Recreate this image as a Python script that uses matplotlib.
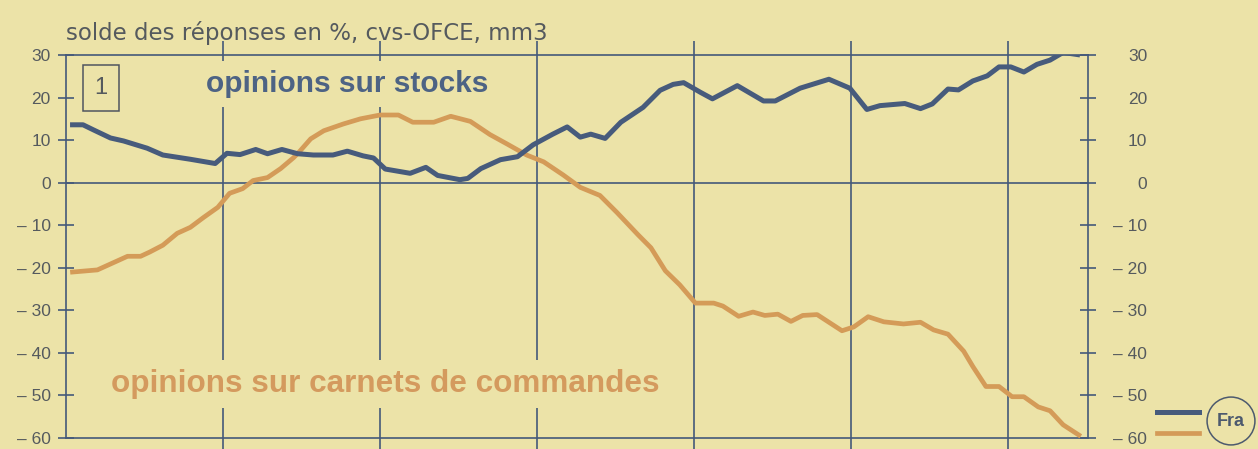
import matplotlib
matplotlib.use("Agg")
import matplotlib.pyplot as plt
import matplotlib.transforms as mtransforms
from matplotlib.lines import Line2D

plt.rcParams['font.family'] = ['Liberation Sans', 'DejaVu Sans']

# months since start of chart (vertical grid every 12 months)
stocks_m = [0.5, 1.3, 2.1, 3.4, 4.4, 6.2, 7.4, 9.5, 11.4, 12.3, 13.3, 14.5, 15.4, 16.5,
            17.7, 18.9, 20.4, 21.5, 22.7, 23.5, 24.4, 26.3, 27.5, 28.4, 30.1, 30.7,
            31.7, 33.2, 34.5, 35.7, 37.2, 38.3, 39.3, 40.1, 41.2, 42.4, 44.1, 45.4,
            46.4, 47.2, 48.5, 49.4, 51.3, 53.3, 54.2, 56.1, 58.3, 59.9, 61.2, 62.2,
            64.1, 65.3, 66.2, 67.4, 68.2, 69.3, 70.4, 71.3, 72.2, 73.2, 74.2, 75.2,
            76.2, 77.3]
stocks = [13.6, 13.6, 12.4, 10.5, 9.8, 8.1, 6.5, 5.5, 4.5, 6.9, 6.6, 7.8, 6.8, 7.8,
          6.8, 6.5, 6.5, 7.4, 6.3, 5.8, 3.2, 2.2, 3.6, 1.7, 0.7, 1.0,
          3.3, 5.4, 6.1, 8.9, 11.4, 13.1, 10.7, 11.4, 10.4, 14.2, 17.7, 21.7,
          23.1, 23.5, 21.2, 19.7, 22.8, 19.2, 19.2, 22.2, 24.3, 22.2, 17.2, 18.1,
          18.6, 17.4, 18.5, 22.0, 21.8, 23.9, 25.1, 27.2, 27.2, 26.0, 27.8, 28.8,
          30.6, 30.1]

carnets_m = [0.5, 2.4, 4.7, 5.7, 6.4, 7.4, 8.5, 9.5, 10.5, 11.6, 12.5, 13.5, 14.3, 15.4,
             16.4, 17.4, 17.9, 18.7, 19.7, 21.2, 22.5, 24.0, 25.4, 26.5, 28.1, 29.4,
             30.9, 32.4, 33.7, 35.2, 36.5, 38.0, 39.3, 40.8, 42.1, 43.7, 44.7, 45.8,
             46.9, 48.1, 49.5, 50.2, 51.4, 52.5, 53.4, 54.4, 55.4, 56.3, 57.4, 59.3,
             60.2, 61.3, 62.5, 64.0, 65.3, 66.3, 67.4, 68.6, 69.3, 70.3, 71.3, 72.3,
             73.2, 74.3, 75.2, 76.2, 77.4]
carnets = [-21.0, -20.5, -17.3, -17.3, -16.3, -14.7, -11.9, -10.5, -8.2, -5.8, -2.5,
           -1.4, 0.5, 1.2, 3.3, 5.9, 7.5, 10.3, 12.2, 13.8, 15.0, 15.9, 15.9, 14.2,
           14.2, 15.6, 14.4, 11.3, 9.1, 6.5, 4.9, 1.8, -1.1, -3.0, -7.0, -12.2, -15.3,
           -20.7, -24.0, -28.3, -28.3, -29.0, -31.4, -30.4, -31.2, -30.9, -32.6, -31.2,
           -31.0, -34.8, -33.9, -31.5, -32.7, -33.2, -32.8, -34.6, -35.6, -39.6, -43.2,
           -47.9, -47.9, -50.3, -50.3, -52.7, -53.6, -56.9, -59.3]

yticks = [30, 20, 10, 0, -10, -20, -30, -40, -50, -60]
ytick_labels = ['30', '20', '10', '0', '\u2013 10', '\u2013 20', '\u2013 30',
                '\u2013 40', '\u2013 50', '\u2013 60']
year_marks = [12, 24, 36, 48, 60, 72]

bg = '#ece3a8'
grid_c = '#44597a'
blue = '#475b7c'
orange = '#d49b58'
label_c = '#555a5e'

fig = plt.figure(figsize=(12.58, 4.49), dpi=100, facecolor=bg)
ax = fig.add_axes([66/1258, 11/449, 1022/1258, 383/449])
ax.set_facecolor(bg)

ax.plot(carnets_m, carnets, color=orange, lw=3.4, solid_joinstyle='round', zorder=4)
ax.plot(stocks_m, stocks, color=blue, lw=3.6, solid_joinstyle='round', zorder=5)

ax.set_xlim(0, 78.1)
ax.set_ylim(-60, 30)
ax.axhline(0, color=grid_c, lw=1.2, zorder=2)

ax.set_xticks(year_marks)
ax.grid(axis='x', color=grid_c, lw=1.2, zorder=1)
ax.tick_params(axis='x', which='both', top=True, bottom=True, direction='out',
               length=10, width=1.2, color=grid_c, labelbottom=False)

ax.set_yticks(yticks)
ax.set_yticklabels(ytick_labels)
ax.tick_params(axis='y', left=True, right=True, labelleft=True, labelright=True,
               direction='inout', length=12, width=1.2, color=grid_c,
               labelsize=12.5, labelcolor=label_c, pad=5)
# right-hand labels are right aligned in the original
offset = mtransforms.ScaledTranslation(44/100, 0, fig.dpi_scale_trans)
for t in ax.yaxis.get_major_ticks():
    t.label2.set_horizontalalignment('right')
    t.label2.set_transform(t.label2.get_transform() + offset)

for s in ax.spines.values():
    s.set_color(grid_c)
    s.set_linewidth(1.2)

fig.text(66/1258, 1 - 33/449, 'solde des réponses en %, cvs-OFCE, mm3',
         fontsize=16.5, color=label_c, va='center', ha='left', family='DejaVu Sans')

ax.text(101/1258, 1 - 88/449, '1', transform=fig.transFigure, fontsize=17,
        color=label_c, ha='center', va='center', zorder=6,
        bbox=dict(boxstyle='square,pad=0.5', fc='none', ec='#505560', lw=1.1))

ax.text(347/1258, 1 - 84/449, 'opinions sur stocks', transform=fig.transFigure,
        fontsize=21.5, fontweight='bold', color='#4d6384', ha='center', va='center',
        zorder=6, bbox=dict(boxstyle='square,pad=0.3', fc=bg, ec='none'))
ax.text(385/1258, 1 - 384/449, 'opinions sur carnets de commandes',
        transform=fig.transFigure, fontsize=22.7, fontweight='bold', color='#d49a5e',
        ha='center', va='center', zorder=6,
        bbox=dict(boxstyle='square,pad=0.3', fc=bg, ec='none'))

# legend key at bottom right
fig.add_artist(Line2D([1157/1258, 1199/1258], [1 - 412/449, 1 - 412/449],
                      color=blue, lw=3.6))
fig.add_artist(Line2D([1157/1258, 1199/1258], [1 - 433/449, 1 - 433/449],
                      color=orange, lw=3.4))
fig.text(1231/1258, 1 - 421/449, 'Fra', fontsize=13, fontweight='bold',
         color='#4d5a6e', ha='center', va='center',
         bbox=dict(boxstyle='circle,pad=0.55', fc='none', ec='#4d5a6e', lw=1.1))

fig.savefig('out.png', dpi=100, facecolor=bg)
